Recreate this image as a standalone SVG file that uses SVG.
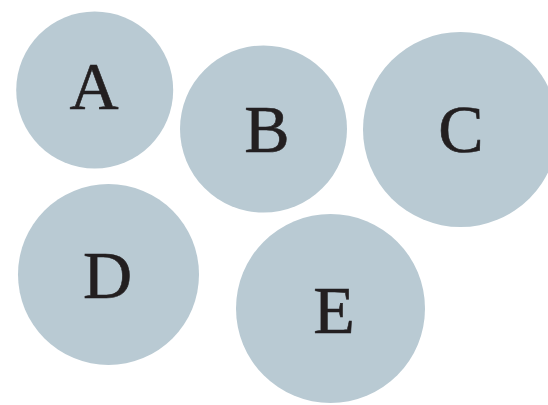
<svg xmlns="http://www.w3.org/2000/svg" width="548" height="405" viewBox="0 0 548 405">
<style>
.n{fill:#b9cad3}
.t{font-family:"Liberation Serif","Times New Roman",serif;font-size:68px;fill:#231f20;stroke:#231f20;stroke-width:0.6;text-anchor:middle}
</style>
<rect width="548" height="405" fill="#ffffff"/>
<g id="connectors"></g>
<g id="A"><circle class="n" cx="94.7" cy="90" r="78.5"/><text class="t" x="94" y="109">A</text></g>
<g id="B"><circle class="n" cx="263.5" cy="129" r="83.5"/><text class="t" x="267" y="152">B</text></g>
<g id="C"><circle class="n" cx="460.5" cy="129.5" r="97.5"/><text class="t" x="461" y="152">C</text></g>
<g id="D"><circle class="n" cx="108.5" cy="274.5" r="90.5"/><text class="t" x="107.5" y="298">D</text></g>
<g id="E"><circle class="n" cx="330.5" cy="308.5" r="94.5"/><text class="t" x="334" y="333">E</text></g>
</svg>
